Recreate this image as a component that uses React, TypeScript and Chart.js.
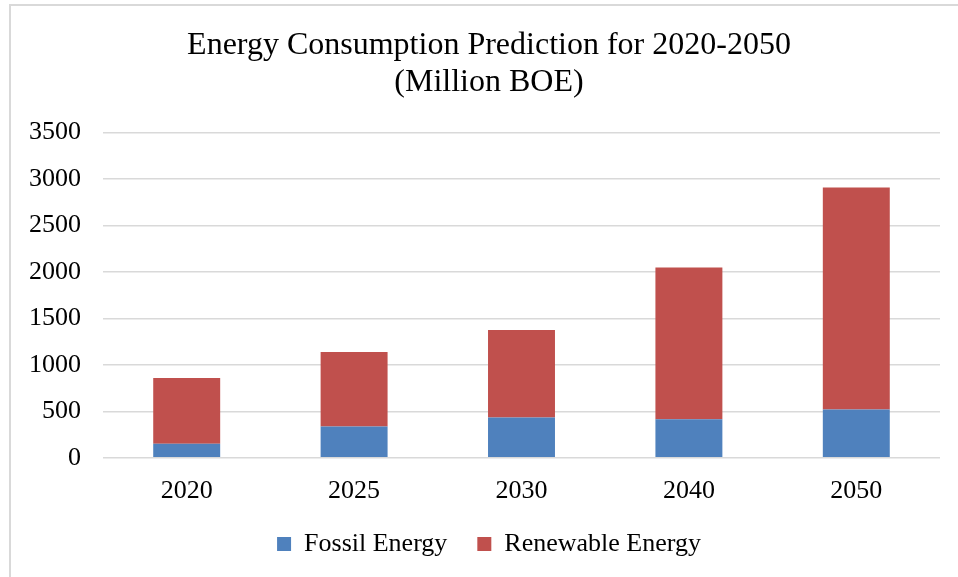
import React, { useEffect, useRef } from "react";
import { Chart, registerables } from "chart.js";

Chart.register(...registerables);

const categories = ["2020", "2025", "2030", "2040", "2050"];
const fossilValues = [150, 337, 434, 414, 521];
const renewableValues = [708, 801, 942, 1633, 2388];
const titleLines = ["Energy Consumption Prediction for 2020-2050", "(Million BOE)"];

const FONT = "'Liberation Serif', 'Times New Roman', serif";

const framePlugin = {
  id: "frame",
  beforeDraw(chart: any) {
    const ctx = chart.ctx;
    ctx.save();
    ctx.fillStyle = "#ffffff";
    ctx.fillRect(0, 0, chart.width, chart.height);
    ctx.strokeStyle = "#d9d9d9";
    ctx.lineWidth = 2;
    ctx.beginPath();
    ctx.moveTo(10, chart.height);
    ctx.lineTo(10, 5);
    ctx.lineTo(chart.width, 5);
    ctx.stroke();
    ctx.restore();
  },
};

export default function App() {
  const ref = useRef<HTMLCanvasElement>(null);

  useEffect(() => {
    if (!ref.current) return;
    const chart = new Chart(ref.current, {
      type: "bar",
      data: {
        labels: categories,
        datasets: [
          {
            label: "Fossil Energy",
            data: fossilValues,
            backgroundColor: "#4f81bd",
            barPercentage: 0.4,
            categoryPercentage: 1.0,
          },
          {
            label: "Renewable Energy",
            data: renewableValues,
            backgroundColor: "#c0504d",
            barPercentage: 0.4,
            categoryPercentage: 1.0,
          },
        ],
      },
      options: {
        responsive: false,
        animation: false,
        devicePixelRatio: 1,
        layout: { padding: { left: 38, right: 18, top: 27, bottom: 10 } },
        plugins: {
          title: {
            display: true,
            text: titleLines,
            color: "#000",
            font: { family: FONT, size: 32, weight: "normal", lineHeight: 1.15 },
            padding: { top: 0, bottom: 32 },
          },
          legend: {
            position: "bottom",
            labels: {
              boxWidth: 14,
              boxHeight: 14,
              color: "#000",
              padding: 30,
              font: { family: FONT, size: 26 },
            },
          },
          tooltip: { enabled: false },
        },
        scales: {
          x: {
            stacked: true,
            grid: { display: false },
            border: { display: false },
            ticks: { color: "#000", font: { family: FONT, size: 26 }, padding: 10 },
            afterFit: (scale: any) => {
              scale.height -= 16;
              scale._computeLabelArea = () => undefined;
            },
          },
          y: {
            stacked: true,
            min: 0,
            max: 3500,
            border: { display: false },
            grid: { color: "#d9d9d9", lineWidth: 1.5, drawTicks: false },
            ticks: {
              stepSize: 500,
              color: "#000",
              padding: 22,
              font: { family: FONT, size: 26 },
              callback: (v: any) => String(v),
            },
            afterFit: (scale: any) => {
              scale.width = 65;
              scale._computeLabelArea = () => undefined;
            },
          },
        },
      },
      plugins: [framePlugin],
    });
    return () => chart.destroy();
  }, []);

  return (
    <div style={{ position: "absolute", left: 0, top: 0, width: 958, height: 577 }}>
      <canvas ref={ref} width={958} height={577} style={{ display: "block" }} />
    </div>
  );
}
